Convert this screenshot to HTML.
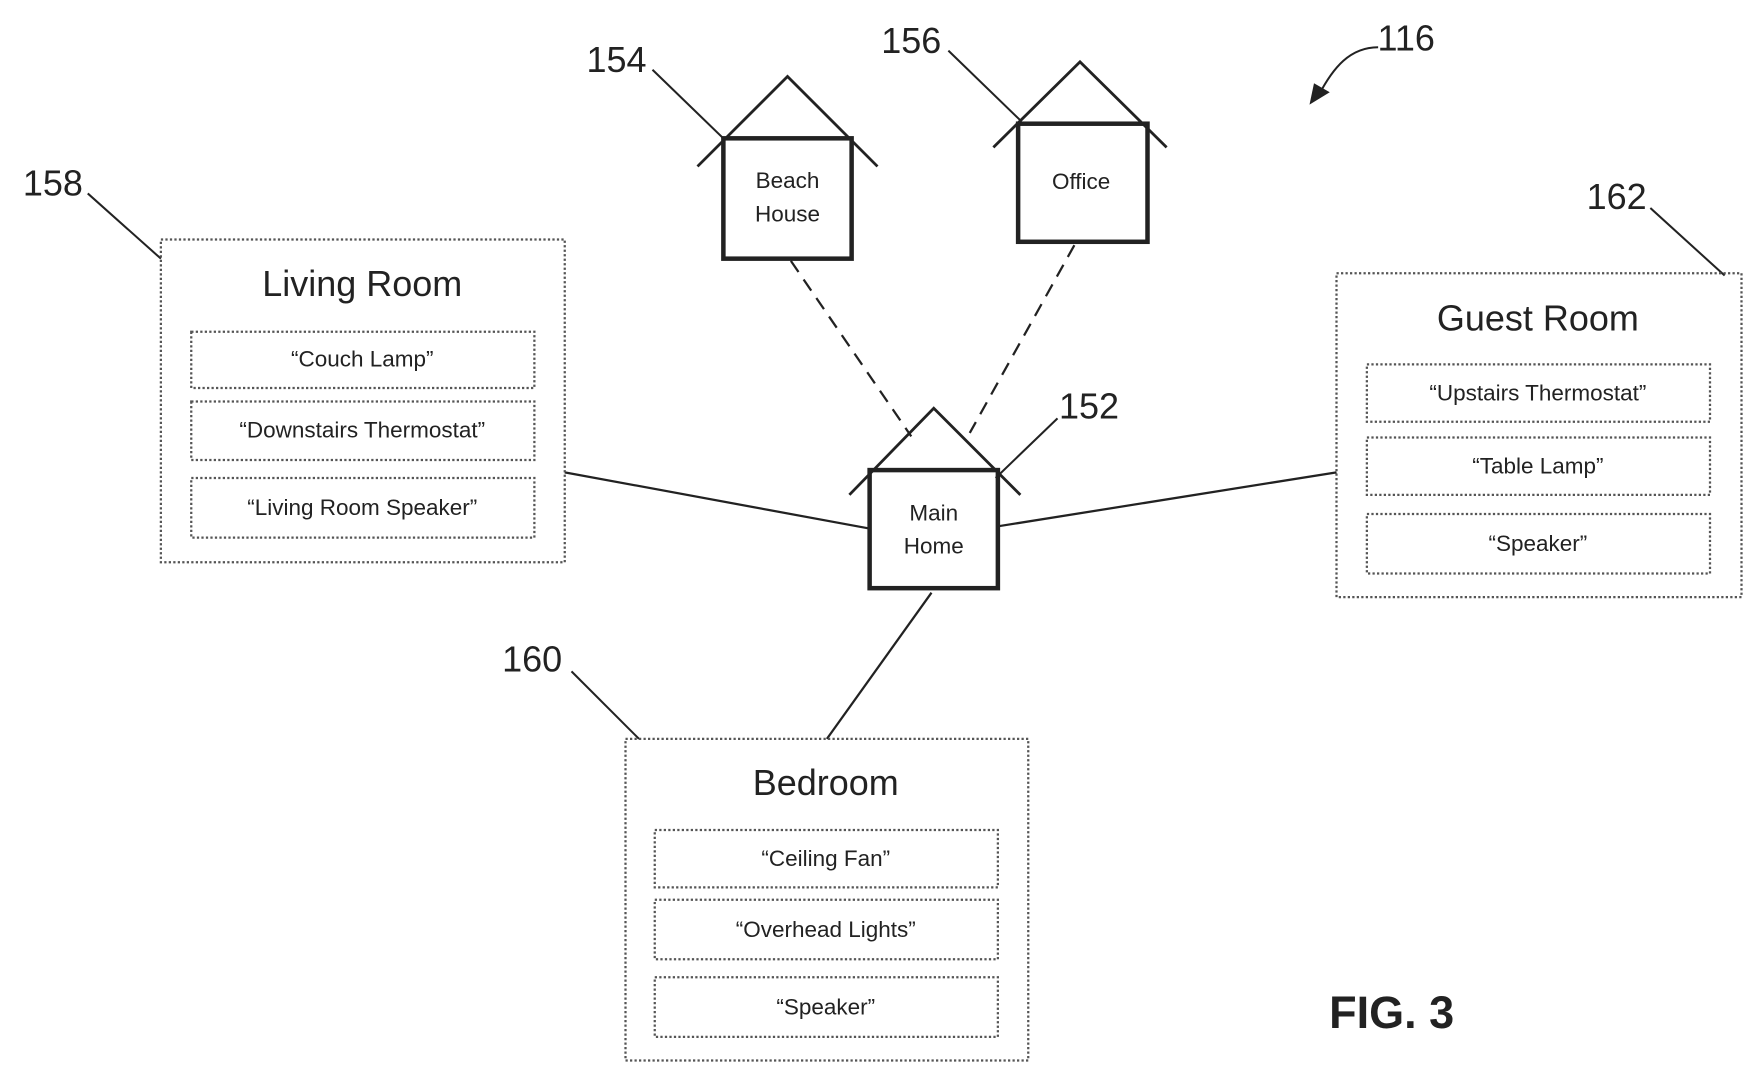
<!DOCTYPE html>
<html><head><style>html,body{margin:0;padding:0;background:#fff}svg{display:block}</style></head>
<body>
<svg width="1764" height="1083" viewBox="0 0 1568 963" preserveAspectRatio="none" xmlns="http://www.w3.org/2000/svg" font-family="Liberation Sans, sans-serif" fill="none" stroke="#333">
<!-- connectors -->
<g stroke="#222" stroke-width="2">
<line x1="502" y1="420" x2="773" y2="470"/>
<line x1="887" y1="468" x2="1188" y2="420"/>
<line x1="828" y1="527" x2="735" y2="657"/>
<line x1="703" y1="232" x2="810" y2="388" stroke-dasharray="12,8"/>
<line x1="955" y1="218" x2="862" y2="385" stroke-dasharray="12,8"/>
</g>
<!-- leaders -->
<g stroke="#222" stroke-width="1.8">
<line x1="580" y1="62" x2="645" y2="125"/>
<line x1="843" y1="45" x2="908" y2="108"/>
<line x1="78" y1="172" x2="143" y2="230"/>
<line x1="1467" y1="185" x2="1533" y2="245"/>
<line x1="508" y1="597" x2="568" y2="657"/>
<line x1="940" y1="372" x2="885" y2="425"/>
<path d="M1225 42 C1200 42 1185 60 1172 85"/>
</g>
<polygon points="1164,93 1168,74 1182,82" fill="#222" stroke="none"/>
<!-- rooms -->
<g stroke="#555" stroke-width="2" stroke-dasharray="2,2">
<rect x="143" y="213" width="359" height="287"/>
<rect x="170" y="295" width="305" height="50"/>
<rect x="170" y="357" width="305" height="52"/>
<rect x="170" y="425" width="305" height="53"/>
<rect x="1188" y="243" width="360" height="288"/>
<rect x="1215" y="324" width="305" height="51"/>
<rect x="1215" y="389" width="305" height="51"/>
<rect x="1215" y="457" width="305" height="53"/>
<rect x="556" y="657" width="358" height="286"/>
<rect x="582" y="738" width="305" height="51"/>
<rect x="582" y="800" width="305" height="53"/>
<rect x="582" y="869" width="305" height="53"/>
</g>
<!-- houses -->
<g stroke="#222" stroke-width="4">
<rect x="643" y="123" width="114" height="107"/>
<rect x="905" y="110" width="115" height="105"/>
<rect x="773" y="418" width="114" height="105"/>
</g>
<g stroke="#222" stroke-width="2.5">
<polyline points="620,148 700,68 780,148"/>
<polyline points="883,131 960,55 1037,131"/>
<polyline points="755,440 830,363 907,440"/>
</g>
<g fill="#222" stroke="none" text-anchor="middle">
<text x="700" y="167" font-size="20">Beach</text>
<text x="700" y="197" font-size="20">House</text>
<text x="961" y="168" font-size="20">Office</text>
<text x="830" y="463" font-size="20">Main</text>
<text x="830" y="492" font-size="20">Home</text>
<text x="322" y="263" font-size="32">Living Room</text>
<text x="322" y="326" font-size="20">“Couch Lamp”</text>
<text x="322" y="389" font-size="20">“Downstairs Thermostat”</text>
<text x="322" y="458" font-size="20">“Living Room Speaker”</text>
<text x="1367" y="294" font-size="32">Guest Room</text>
<text x="1367" y="356" font-size="20">“Upstairs Thermostat”</text>
<text x="1367" y="421" font-size="20">“Table Lamp”</text>
<text x="1367" y="490" font-size="20">“Speaker”</text>
<text x="734" y="707" font-size="32">Bedroom</text>
<text x="734" y="770" font-size="20">“Ceiling Fan”</text>
<text x="734" y="833" font-size="20">“Overhead Lights”</text>
<text x="734" y="902" font-size="20">“Speaker”</text>
<text x="548" y="64" font-size="32">154</text>
<text x="810" y="47" font-size="32">156</text>
<text x="47" y="174" font-size="32">158</text>
<text x="1437" y="186" font-size="32">162</text>
<text x="473" y="597" font-size="32">160</text>
<text x="968" y="372" font-size="32">152</text>
<text x="1250" y="45" font-size="32">116</text>
<text x="1237" y="914" font-size="40" font-weight="bold">FIG. 3</text>
</g>
</svg>
</body></html>
